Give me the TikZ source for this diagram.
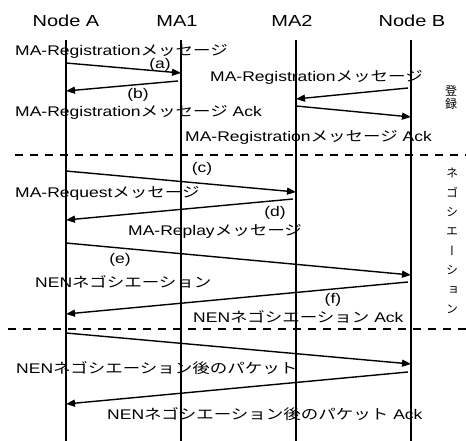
\documentclass[tikz,border=0pt]{standalone}
\usepackage{fontspec}
\setmainfont{Liberation Sans}[FakeStretch=1.25]
\newfontfamily\jp{Noto Sans CJK JP}[FakeStretch=1.25]
\newfontfamily\jpv{Noto Sans CJK JP}[RawFeature=+vert]
\usepackage{tikz}
\usetikzlibrary{arrows.meta}

\begin{document}
\begin{tikzpicture}[
    x=1pt, y=-1pt,
    every node/.style={inner sep=0pt, font=\fontsize{14}{16}\selectfont},
    head/.style={anchor=base, font=\fontsize{16}{18}\selectfont},
    msgtext/.style={anchor=base west},
    vtext/.style={align=center, font=\jpv\fontsize{12}{13}\selectfont},
    lifeline/.style={line width=1.5pt},
    msg/.style={line width=1.4pt, -{Triangle[length=9pt,width=7pt]}},
    sep/.style={line width=1.1pt, dash pattern=on 8pt off 7pt}
]
\useasboundingbox (0,0) rectangle (466,441);

% Header
\node[head] (nodeA) at (66,27) {Node A};
\node[head] (ma1) at (177,27) {MA1};
\node[head] (ma2) at (292,27) {MA2};
\node[head] (nodeB) at (412,27) {Node B};

% Lifelines
\coordinate (A0) at (66,40);  \coordinate (A1) at (66,441);
\coordinate (M0) at (181,40); \coordinate (M1) at (181,441);
\coordinate (N0) at (296,40); \coordinate (N1) at (296,441);
\coordinate (B0) at (411,40); \coordinate (B1) at (411,441);
\draw[lifeline] (A0) -- (A1);
\draw[lifeline] (M0) -- (M1);
\draw[lifeline] (N0) -- (N1);
\draw[lifeline] (B0) -- (B1);

% Separators
\coordinate (s1l) at (15,155); \coordinate (s1r) at (466,155);
\coordinate (s2l) at (8,329);  \coordinate (s2r) at (466,329);
\draw[sep] (s1l) -- (s1r);
\draw[sep] (s2l) -- (s2r);

% Registration
\coordinate (a-s) at (66,63);   \coordinate (a-e) at (181,73);
\coordinate (b-s) at (178,81);  \coordinate (b-e) at (66,91);
\coordinate (r-s) at (408,88);  \coordinate (r-e) at (296,99);
\coordinate (k-s) at (296,106); \coordinate (k-e) at (411,117);
\draw[msg] (a-s) -- (a-e);
\draw[msg] (b-s) -- (b-e);
\draw[msg] (r-s) -- (r-e);
\draw[msg] (k-s) -- (k-e);
\node (la) at (160,65) {(a)};
\node (lb) at (138,95) {(b)};
\node[msgtext] (regA) at (15,56) {MA-Registration{\jp メッセージ}};
\node[msgtext] (regB) at (210,82) {MA-Registration{\jp メッセージ}};
\node[msgtext] (ackA) at (15,117) {MA-Registration{\jp メッセージ} Ack};
\node[msgtext] (ackB) at (185,142) {MA-Registration{\jp メッセージ} Ack};
\node[vtext] (reg) at (451,97) {登\\録};

% Negotiation
\coordinate (c-s) at (66,171);  \coordinate (c-e) at (296,192);
\coordinate (d-s) at (293,199); \coordinate (d-e) at (66,220);
\coordinate (e-s) at (66,243);  \coordinate (e-e) at (411,275);
\coordinate (f-s) at (408,282); \coordinate (f-e) at (66,314);
\draw[msg] (c-s) -- (c-e);
\draw[msg] (d-s) -- (d-e);
\draw[msg] (e-s) -- (e-e);
\draw[msg] (f-s) -- (f-e);
\node (lc) at (202,169) {(c)};
\node (ld) at (275,213) {(d)};
\node (le) at (120,260) {(e)};
\node (lf) at (333,300) {(f)};
\node[msgtext] (req) at (15,197) {MA-Request{\jp メッセージ}};
\node[msgtext] (rep) at (128,235) {MA-Replay{\jp メッセージ}};
\node[msgtext] (nen) at (35,287) {NEN{\jp ネゴシエーション}};
\node[msgtext] (nenack) at (193,322) {NEN{\jp ネゴシエーション} Ack};
\node[vtext, font=\jpv\fontsize{12}{19.4}\selectfont] (nego) at (452,241)
    {ネ\\ゴ\\シ\\エ\\ー\\シ\\ョ\\ン};

% Packets
\coordinate (p-s) at (66,333);  \coordinate (p-e) at (411,364);
\coordinate (q-s) at (408,372); \coordinate (q-e) at (66,404);
\draw[msg] (p-s) -- (p-e);
\draw[msg] (q-s) -- (q-e);
\node[msgtext] (pkt) at (16,373) {NEN{\jp ネゴシエーション後のパケット}};
\node[msgtext] (pktack) at (107,419) {NEN{\jp ネゴシエーション後のパケット} Ack};

\end{tikzpicture}
\end{document}
